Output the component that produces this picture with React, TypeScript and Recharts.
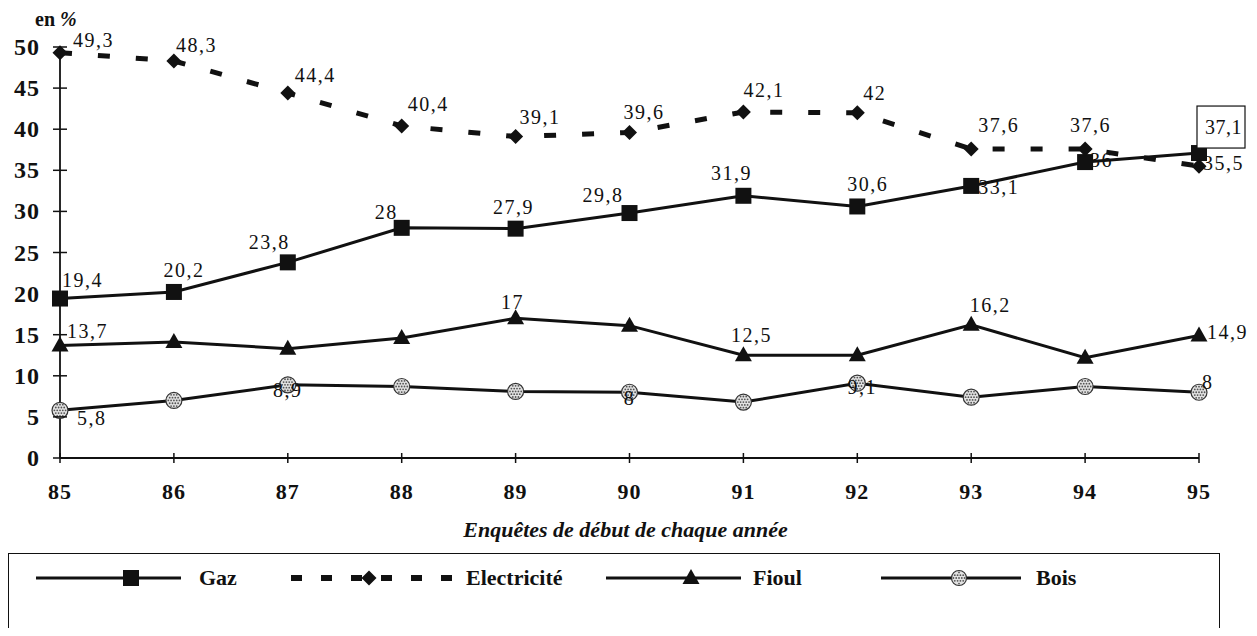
import React from 'react';
import { LineChart, Line, XAxis, YAxis, LabelList } from 'recharts';

// Survey years (start of each year) and heating-energy shares, in %
const years = [85, 86, 87, 88, 89, 90, 91, 92, 93, 94, 95];
const gaz = [19.4, 20.2, 23.8, 28, 27.9, 29.8, 31.9, 30.6, 33.1, 36, 37.1];
const electricite = [49.3, 48.3, 44.4, 40.4, 39.1, 39.6, 42.1, 42, 37.6, 37.6, 35.5];
const fioul = [13.7, 14.1, 13.3, 14.6, 17, 16.1, 12.5, 12.5, 16.2, 12.2, 14.9];
const bois = [5.8, 7.0, 8.9, 8.7, 8.1, 8, 6.8, 9.1, 7.4, 8.7, 8];
const yTicks = [0, 5, 10, 15, 20, 25, 30, 35, 40, 45, 50];

const data = years.map((year, i) => ({
  year,
  gaz: gaz[i],
  electricite: electricite[i],
  fioul: fioul[i],
  bois: bois[i],
}));

const SERIF = 'Liberation Serif';
const INK = '#111';

const fmt = (v: number) => String(v).replace('.', ',');

type Anchor = 'start' | 'middle' | 'end';
type Place = [number, number, Anchor];

// label placement around each point: [dx, dy, anchor]
const gazPlaces: Record<number, Place> = {
  0: [2, -19, 'start'],
  1: [10, -22, 'middle'],
  2: [2, -20, 'end'],
  3: [-4, -16, 'end'],
  4: [-2, -22, 'middle'],
  5: [-6, -18, 'end'],
  6: [-12, -23, 'middle'],
  7: [-10, -22, 'start'],
  8: [7, 1, 'start'],
  9: [5, -2, 'start'],
  10: [6, -26, 'start'],
};
const elecPlaces: Record<number, Place> = {
  0: [13, -13, 'start'],
  1: [2, -16, 'start'],
  2: [7, -18, 'start'],
  3: [6, -22, 'start'],
  4: [4, -20, 'start'],
  5: [-6, -20, 'start'],
  6: [0, -22, 'start'],
  7: [6, -20, 'start'],
  8: [7, -24, 'start'],
  9: [-15, -24, 'start'],
  10: [4, -3, 'start'],
};
const fioulPlaces: Record<number, Place> = {
  0: [7, -14, 'start'],
  4: [-3, -16, 'middle'],
  6: [8, -20, 'middle'],
  8: [19, -20, 'middle'],
  10: [8, -4, 'start'],
};
const boisPlaces: Record<number, Place> = {
  0: [17, 8, 'start'],
  2: [0, 5, 'middle'],
  5: [0, 6, 'middle'],
  7: [5, 4, 'middle'],
  10: [3, -10, 'start'],
};

const makeLabel = (places: Record<number, Place>, boxedIndex?: number) => (props: any) => {
  const vb = props.viewBox || {};
  const x = props.x ?? vb.x;
  const y = props.y ?? vb.y;
  const index = props.index;
  const value = props.value;
  const p = places[index];
  if (!p || value == null || x == null || y == null) return null;
  const tx = x + p[0];
  const ty = y + p[1];
  return (
    <g key={`lbl-${index}`}>
      {boxedIndex === index && (
        <rect x={x - 2} y={ty - 21} width={48} height={42} fill="#fff" stroke={INK} strokeWidth={1.2} />
      )}
      <text
        x={tx}
        y={ty}
        textAnchor={p[2]}
        dominantBaseline="central"
        fontFamily={SERIF}
        fontSize={20}
        letterSpacing={boxedIndex === index ? 0.5 : 1.5}
        fill={INK}
      >
        {fmt(value)}
      </text>
    </g>
  );
};

const SquareDot = (props: any) => {
  const { cx, cy, index } = props;
  if (cx == null || cy == null) return null;
  return <rect key={`sq-${index}`} x={cx - 8} y={cy - 8} width={16} height={16} fill={INK} />;
};
const DiamondDot = (props: any) => {
  const { cx, cy, index } = props;
  if (cx == null || cy == null) return null;
  return (
    <path key={`di-${index}`} d={`M${cx},${cy - 7.5} L${cx + 7.5},${cy} L${cx},${cy + 7.5} L${cx - 7.5},${cy} Z`} fill={INK} />
  );
};
const TriangleDot = (props: any) => {
  const { cx, cy, index } = props;
  if (cx == null || cy == null) return null;
  return <path key={`tr-${index}`} d={`M${cx},${cy - 9} L${cx + 8.5},${cy + 6} L${cx - 8.5},${cy + 6} Z`} fill={INK} />;
};
const DottedCircle = ({ cx, cy, r = 8 }: { cx: number; cy: number; r?: number }) => {
  const dots: React.ReactNode[] = [];
  for (let i = -2; i <= 2; i++) {
    for (let j = -2; j <= 2; j++) {
      const dx = i * 2.8 + (j % 2 ? 1.4 : 0);
      const dy = j * 2.8;
      if (dx * dx + dy * dy < (r - 1.5) * (r - 1.5)) {
        dots.push(<circle key={`${i}-${j}`} cx={cx + dx} cy={cy + dy} r={0.9} fill="#555" />);
      }
    }
  }
  return (
    <g>
      <circle cx={cx} cy={cy} r={r} fill="#e2e2e2" stroke="#333" strokeWidth={1.2} />
      {dots}
    </g>
  );
};
const CircleDot = (props: any) => {
  const { cx, cy, index } = props;
  if (cx == null || cy == null) return null;
  return (
    <g key={`ci-${index}`}>
      <DottedCircle cx={cx} cy={cy} />
    </g>
  );
};

const YTick = (props: any) => {
  const { x, y, payload } = props;
  return (
    <g>
      <line x1={x + 13} x2={x + 27} y1={y} y2={y} stroke={INK} strokeWidth={1.5} />
      <text
        x={x}
        y={y}
        textAnchor="end"
        dominantBaseline="central"
        fontFamily={SERIF}
        fontWeight="bold"
        fontSize={24}
        letterSpacing={1}
        fill={INK}
      >
        {payload.value}
      </text>
    </g>
  );
};

const XTick = (props: any) => {
  const { x, y, payload } = props;
  const axisY = y - 27;
  return (
    <g>
      <line x1={x} x2={x} y1={axisY - 5} y2={axisY + 5} stroke={INK} strokeWidth={1.5} />
      <text
        x={x}
        y={y + 14}
        textAnchor="middle"
        fontFamily={SERIF}
        fontWeight="bold"
        fontSize={22}
        letterSpacing={1}
        fill={INK}
      >
        {payload.value}
      </text>
    </g>
  );
};

const XTitle = (props: any) => {
  const vb = props.viewBox || {};
  return (
    <text
      x={vb.x + vb.width / 2 - 4}
      y={vb.y + vb.height - 1}
      textAnchor="middle"
      fontFamily={SERIF}
      fontStyle="italic"
      fontWeight="bold"
      fontSize={22}
      fill={INK}
    >
      Enquêtes de début de chaque année
    </text>
  );
};

const YTitle = (props: any) => {
  const vb = props.viewBox || {};
  return (
    <text x={vb.x + 35} y={vb.y - 21} fontFamily={SERIF} fontWeight="bold" fontSize={20} fill={INK}>
      en <tspan fontStyle="italic">%</tspan>
    </text>
  );
};

const legendText: React.CSSProperties = {
  position: 'absolute',
  top: 12,
  fontFamily: SERIF,
  fontWeight: 'bold',
  fontSize: 22,
  color: INK,
  lineHeight: '24px',
};

function LegendBox() {
  // left edge of the box is at x=8
  return (
    <div
      style={{
        position: 'absolute',
        left: 8,
        top: 553,
        width: 1212,
        height: 75,
        borderTop: `1.5px solid ${INK}`,
        borderLeft: `1px solid ${INK}`,
        borderRight: `1px solid ${INK}`,
        boxSizing: 'border-box',
      }}
    >
      <svg width={1212} height={75} style={{ position: 'absolute', left: 0, top: 0 }}>
        {/* Gaz */}
        <line x1={27} x2={172} y1={24} y2={24} stroke={INK} strokeWidth={3} />
        <rect x={114} y={16} width={16} height={16} fill={INK} />
        {/* Electricité */}
        <line x1={282} x2={445} y1={24} y2={24} stroke={INK} strokeWidth={6} strokeDasharray="11 19" />
        <path d="M360,16.5 L367.5,24 L360,31.5 L352.5,24 Z" fill={INK} />
        {/* Fioul */}
        <line x1={597} x2={732} y1={24} y2={24} stroke={INK} strokeWidth={3} />
        <path d="M682,15 L690.5,30 L673.5,30 Z" fill={INK} />
        {/* Bois */}
        <line x1={872} x2={1012} y1={24} y2={24} stroke={INK} strokeWidth={3} />
        <DottedCircle cx={950} cy={24} r={7.5} />
      </svg>
      <span style={{ ...legendText, left: 190 }}>Gaz</span>
      <span style={{ ...legendText, left: 457 }}>Electricité</span>
      <span style={{ ...legendText, left: 744 }}>Fioul</span>
      <span style={{ ...legendText, left: 1027 }}>Bois</span>
    </div>
  );
}

export default function App() {
  return (
    <div style={{ position: 'relative', width: 1257, height: 628, margin: '-8px 0 0 -8px', background: '#fff' }}>
      <LineChart
        width={1257}
        height={545}
        data={data}
        margin={{ top: 47, right: 58, left: 0, bottom: 7 }}
        style={{ overflow: 'visible' }}
      >
        <XAxis
          dataKey="year"
          type="number"
          domain={[85, 95]}
          ticks={years}
          interval={0}
          height={80}
          tickSize={5}
          tickMargin={22}
          tickLine={false}
          axisLine={{ stroke: INK, strokeWidth: 1.8 }}
          tick={<XTick />}
          label={<XTitle />}
        />
        <YAxis
          type="number"
          domain={[0, 50]}
          ticks={yTicks}
          interval={0}
          width={60}
          tickSize={7}
          tickMargin={13}
          tickLine={false}
          axisLine={{ stroke: INK, strokeWidth: 1.8 }}
          tick={<YTick />}
          label={<YTitle />}
        />
        <Line
          dataKey="bois"
          stroke={INK}
          strokeWidth={3}
          dot={CircleDot}
          isAnimationActive={false}
        >
          <LabelList dataKey="bois" content={makeLabel(boisPlaces)} />
        </Line>
        <Line
          dataKey="fioul"
          stroke={INK}
          strokeWidth={3}
          dot={TriangleDot}
          isAnimationActive={false}
        >
          <LabelList dataKey="fioul" content={makeLabel(fioulPlaces)} />
        </Line>
        <Line
          dataKey="gaz"
          stroke={INK}
          strokeWidth={3}
          dot={SquareDot}
          isAnimationActive={false}
        >
          <LabelList dataKey="gaz" content={makeLabel(gazPlaces, 10)} />
        </Line>
        <Line
          dataKey="electricite"
          stroke={INK}
          strokeWidth={5}
          strokeDasharray="12 26"
          dot={DiamondDot}
          isAnimationActive={false}
        >
          <LabelList dataKey="electricite" content={makeLabel(elecPlaces)} />
        </Line>
      </LineChart>
      <LegendBox />
    </div>
  );
}
